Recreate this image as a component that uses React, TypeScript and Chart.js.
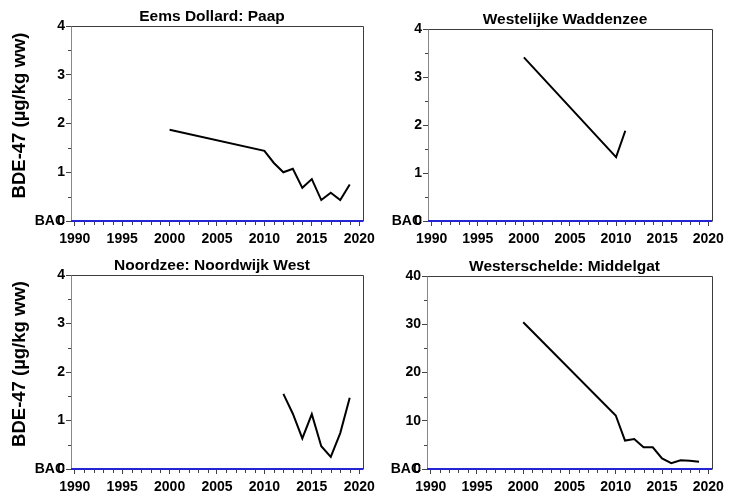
import React, { useEffect, useRef } from "react";
import { Chart, registerables } from "chart.js";

Chart.register(...registerables);

const FONT = '"Liberation Sans", Arial, Helvetica, sans-serif';

// ---- axis / label data ----
const xMin = 1989.6;
const xMax = 2020.4;
const xMajorTicks = [1990, 1995, 2000, 2005, 2010, 2015, 2020];
const xMinorTicks = [
  1991, 1992, 1993, 1994, 1996, 1997, 1998, 1999, 2001, 2002, 2003, 2004,
  2006, 2007, 2008, 2009, 2011, 2012, 2013, 2014, 2016, 2017, 2018, 2019,
];
const ySmallTicks = [0, 1, 2, 3, 4];
const ySmallMinor = [0.5, 1.5, 2.5, 3.5];
const yLargeTicks = [0, 10, 20, 30, 40];
const yLargeMinor = [5, 15, 25, 35];
const yAxisTitle = "BDE-47 (µg/kg ww)";
const bacLabel = "BAC";
const bacValue = 0;

// ---- series data ----
const eemsYears = [2000, 2010, 2011, 2012, 2013, 2014, 2015, 2016, 2017, 2018, 2019];
const eemsValues = [1.87, 1.44, 1.19, 1.0, 1.07, 0.68, 0.86, 0.43, 0.58, 0.43, 0.75];

const waddenYears = [2000, 2010, 2011];
const waddenValues = [3.41, 1.33, 1.88];

const noordzeeYears = [2012, 2013, 2014, 2015, 2016, 2017, 2018, 2019];
const noordzeeValues = [1.55, 1.14, 0.63, 1.13, 0.47, 0.25, 0.74, 1.47];

const westerYears = [2000, 2010, 2011, 2012, 2013, 2014, 2015, 2016, 2017, 2018, 2019];
const westerValues = [30.4, 11.1, 5.9, 6.2, 4.5, 4.5, 2.2, 1.2, 1.8, 1.7, 1.5];

type Panel = {
  title: string;
  years: number[];
  values: number[];
  yMax: number;
  yTicks: number[];
  yMinor: number[];
  left: number;
  top: number;
  width: number;
  height: number;
  padTop: number;
  padRight: number;
  yWidth: number;
  xHeight: number;
  showYTitle: boolean;
};

const panels: Panel[] = [
  {
    title: "Eems Dollard: Paap",
    years: eemsYears,
    values: eemsValues,
    yMax: 4,
    yTicks: ySmallTicks,
    yMinor: ySmallMinor,
    left: 0,
    top: 0,
    width: 380,
    height: 249,
    padTop: 26,
    padRight: 17,
    yWidth: 71,
    xHeight: 28,
    showYTitle: true,
  },
  {
    title: "Westelijke Waddenzee",
    years: waddenYears,
    values: waddenValues,
    yMax: 4,
    yTicks: ySmallTicks,
    yMinor: ySmallMinor,
    left: 380,
    top: 0,
    width: 349,
    height: 249,
    padTop: 29,
    padRight: 11,
    yWidth: 48,
    xHeight: 28,
    showYTitle: false,
  },
  {
    title: "Noordzee: Noordwijk West",
    years: noordzeeYears,
    values: noordzeeValues,
    yMax: 4,
    yTicks: ySmallTicks,
    yMinor: ySmallMinor,
    left: 0,
    top: 250,
    width: 380,
    height: 243,
    padTop: 25,
    padRight: 17,
    yWidth: 71,
    xHeight: 24,
    showYTitle: true,
  },
  {
    title: "Westerschelde: Middelgat",
    years: westerYears,
    values: westerValues,
    yMax: 40,
    yTicks: yLargeTicks,
    yMinor: yLargeMinor,
    left: 380,
    top: 250,
    width: 349,
    height: 243,
    padTop: 26,
    padRight: 11,
    yWidth: 47,
    xHeight: 24,
    showYTitle: false,
  },
];

const decorPlugin = {
  id: "decor",
  afterDraw(chart: any, _args: any, opts: any) {
    const { ctx, chartArea } = chart;
    const xs = chart.scales.x;
    const ys = chart.scales.y;
    const { left, right, top, bottom } = chartArea;
    ctx.save();

    // frame top & right
    ctx.strokeStyle = "#3c3c3c";
    ctx.lineWidth = 1;
    ctx.beginPath();
    ctx.moveTo(Math.round(left) + 0.5, Math.round(top) + 0.5);
    ctx.lineTo(Math.round(right) + 0.5, Math.round(top) + 0.5);
    ctx.lineTo(Math.round(right) + 0.5, Math.round(bottom) + 0.5);
    ctx.stroke();

    // minor ticks
    ctx.strokeStyle = "#444444";
    ctx.beginPath();
    (opts.yMinor as number[]).forEach((v) => {
      const py = Math.round(ys.getPixelForValue(v)) + 0.5;
      ctx.moveTo(left - 3, py);
      ctx.lineTo(left, py);
    });
    xMinorTicks.forEach((v) => {
      const px = Math.round(xs.getPixelForValue(v)) + 0.5;
      ctx.moveTo(px, bottom + 1);
      ctx.lineTo(px, bottom + 4);
    });
    ctx.stroke();

    // BAC line
    const by = ys.getPixelForValue(bacValue);
    ctx.strokeStyle = "#2424d4";
    ctx.lineWidth = 2;
    ctx.beginPath();
    ctx.moveTo(left, by);
    ctx.lineTo(right, by);
    ctx.stroke();

    // BAC label
    ctx.fillStyle = "#000";
    ctx.font = `bold 14px ${FONT}`;
    ctx.textAlign = "right";
    ctx.textBaseline = "middle";
    ctx.fillText(bacLabel, left - 6, by);

    // title
    ctx.font = `bold 15.5px ${FONT}`;
    ctx.textAlign = "center";
    ctx.textBaseline = "alphabetic";
    ctx.fillText(opts.title, (left + right) / 2 - 5, top - 5);

    // y-axis title
    if (opts.showYTitle) {
      ctx.translate(20, (top + bottom) / 2 - 8);
      ctx.rotate(-Math.PI / 2);
      ctx.font = `bold 18.5px ${FONT}`;
      ctx.textAlign = "center";
      ctx.textBaseline = "middle";
      ctx.fillText(yAxisTitle, 0, 0);
    }
    ctx.restore();
  },
};

function PanelChart({ p }: { p: Panel }) {
  const ref = useRef<HTMLCanvasElement | null>(null);
  useEffect(() => {
    if (!ref.current) return;
    const chart = new Chart(ref.current, {
      type: "line",
      data: {
        datasets: [
          {
            data: p.years.map((y, i) => ({ x: y, y: p.values[i] })),
            borderColor: "#000000",
            borderWidth: 2,
            pointRadius: 0,
            tension: 0,
            fill: false,
          },
        ],
      },
      options: {
        responsive: false,
        animation: false,
        events: [],
        layout: { padding: { top: p.padTop, right: p.padRight, left: 0, bottom: 0 } },
        plugins: {
          legend: { display: false },
          tooltip: { enabled: false },
          decor: { title: p.title, yMinor: p.yMinor, showYTitle: p.showYTitle },
        } as any,
        scales: {
          x: {
            type: "linear",
            min: xMin,
            max: xMax,
            afterBuildTicks: (s: any) => {
              s.ticks = xMajorTicks.map((v) => ({ value: v }));
            },
            afterFit: (s: any) => {
              s.height = p.xHeight;
            },
            ticks: {
              autoSkip: false,
              maxRotation: 0,
              padding: 5,
              color: "#000",
              font: { family: FONT, size: 14, weight: "bold" },
              callback: (v: any) => String(v),
            },
            grid: {
              display: true,
              drawOnChartArea: false,
              drawTicks: true,
              tickLength: 5,
              tickColor: "#444444",
            },
            border: { display: false },
          },
          y: {
            type: "linear",
            min: 0,
            max: p.yMax,
            afterBuildTicks: (s: any) => {
              s.ticks = p.yTicks.map((v) => ({ value: v }));
            },
            afterFit: (s: any) => {
              s.width = p.yWidth;
            },
            ticks: {
              autoSkip: false,
              padding: 1,
              color: "#000",
              font: { family: FONT, size: 14, weight: "bold" },
              callback: (v: any) => String(v),
            },
            grid: {
              display: true,
              drawOnChartArea: false,
              drawTicks: true,
              tickLength: 5,
              tickColor: "#444444",
            },
            border: { display: true, color: "#888888", width: 1 },
          },
        },
      },
      plugins: [decorPlugin],
    });
    return () => chart.destroy();
  }, [p]);
  return (
    <canvas
      ref={ref}
      width={p.width}
      height={p.height}
      style={{
        position: "absolute",
        left: p.left,
        top: p.top,
        width: p.width,
        height: p.height,
      }}
    />
  );
}

export default function App() {
  return (
    <div
      style={{
        position: "absolute",
        left: 0,
        top: 0,
        width: 729,
        height: 493,
        background: "#ffffff",
        overflow: "hidden",
      }}
    >
      {panels.map((p) => (
        <PanelChart key={p.title} p={p} />
      ))}
    </div>
  );
}
